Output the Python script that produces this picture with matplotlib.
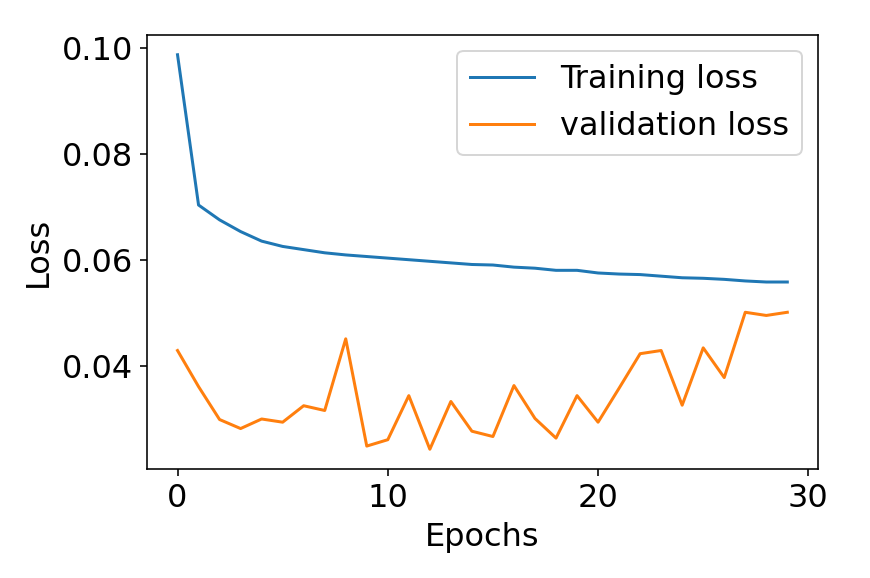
import matplotlib
matplotlib.use('Agg')
import matplotlib.pyplot as plt

# loss per epoch
epochs = list(range(30))
train_loss = [0.0987, 0.0704, 0.0676, 0.0654, 0.0636, 0.0626, 0.0620, 0.0614, 0.0610, 0.0607,
              0.0604, 0.0601, 0.0598, 0.0595, 0.0592, 0.0591, 0.0587, 0.0585, 0.0581, 0.0581,
              0.0576, 0.0574, 0.0573, 0.0570, 0.0567, 0.0566, 0.0564, 0.0561, 0.0559, 0.0559]
val_loss = [0.0430, 0.0362, 0.0300, 0.0283, 0.0301, 0.0295, 0.0326, 0.0317, 0.0452, 0.0250,
            0.0262, 0.0345, 0.0244, 0.0334, 0.0278, 0.0268, 0.0364, 0.0302, 0.0265, 0.0345,
            0.0295, 0.0359, 0.0424, 0.0430, 0.0327, 0.0435, 0.0379, 0.0502, 0.0496, 0.0502]

plt.rcParams['font.size'] = 16

fig = plt.figure(figsize=(870 / 144, 578 / 144), dpi=144)
ax = fig.add_axes([0.169, 0.1886, 0.771, 0.7508])
ax.plot(epochs, train_loss, label='Training loss')
ax.plot(epochs, val_loss, label='validation loss')
ax.set_xlabel('Epochs')
ax.set_ylabel('Loss')
ax.set_yticks([0.04, 0.06, 0.08, 0.10])
ax.set_xticks([0, 10, 20, 30])
ax.legend(loc='upper right')

fig.savefig('out.png', dpi=144)
